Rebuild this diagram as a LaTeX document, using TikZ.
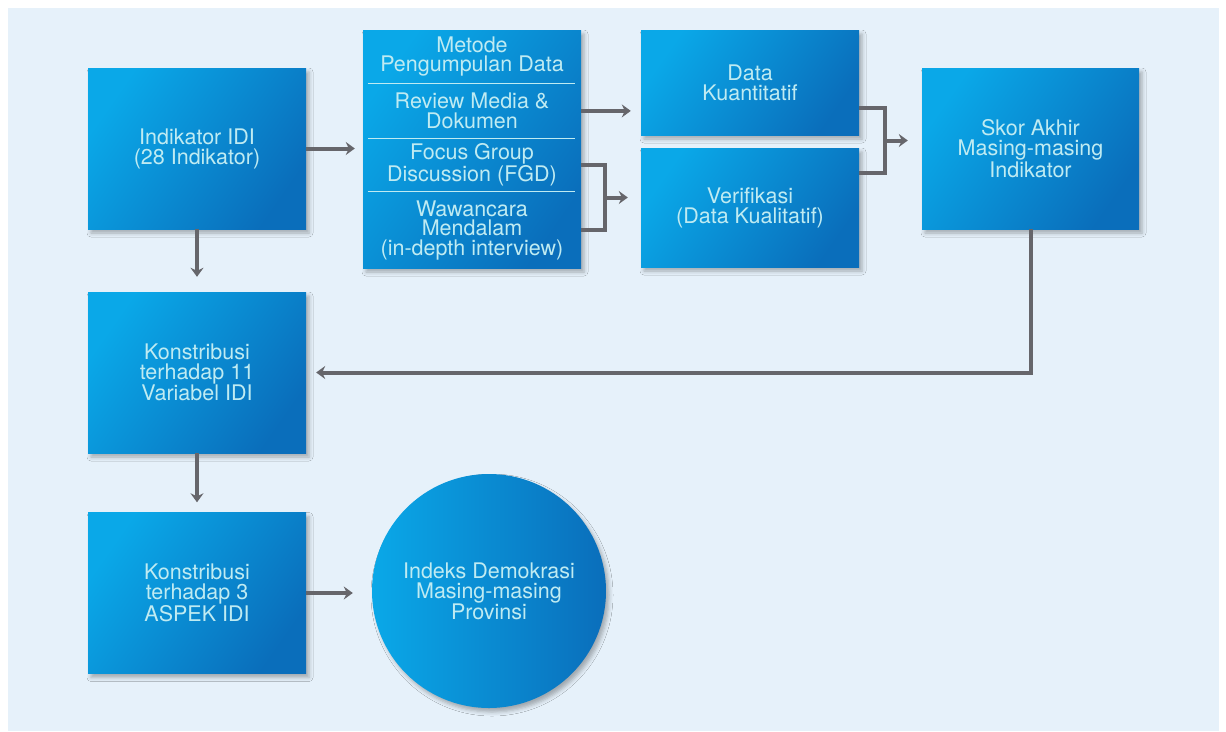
\documentclass[tikz,border=0pt]{standalone}
\usepackage{fontspec}
\setsansfont{TeX Gyre Heros}
\usetikzlibrary{positioning, calc, arrows.meta, shadows.blur}

\definecolor{panelbg}{HTML}{E6F1FA}
\definecolor{boxlight}{HTML}{0AA8E8}
\definecolor{boxdark}{HTML}{0A6EBB}
\definecolor{boxtext}{HTML}{BFEBF2}
\definecolor{linkgray}{HTML}{66666B}

\tikzset{
  idibox/.style={minimum width=218pt, minimum height=161pt, inner sep=0pt,
    top color=boxlight, bottom color=boxdark, shading angle=55,
    blur shadow={shadow xshift=3pt, shadow yshift=-4pt, shadow opacity=30, shadow blur radius=4pt},
    font=\sffamily\fontsize{21.5}{20}\selectfont, text=boxtext, align=center},
  rowbox/.style={minimum width=218pt, inner sep=0pt,
    font=\sffamily\fontsize{21.5}{19.5}\selectfont, text=boxtext, align=center},
  divline/.style={boxtext, line width=0.9pt},
  bracket/.style={linkgray, line width=4pt},
  link/.style={linkgray, line width=4pt, -{Stealth[length=9pt,width=13pt,inset=3pt]}, shorten >=10pt}
}

\begin{document}
\begin{tikzpicture}[x=1pt, y=-1pt]
  \useasboundingbox (0,0) rectangle (1226,731);

  % Background panel
  \fill[white] (0,0) rectangle (1226,731);
  \fill[panelbg] (8,8) rectangle (1219,731);

  % Boxes of the main flow
  \node[idibox] (ind) at (197,148.5) {Indikator IDI\\(28 Indikator)};
  \node[idibox, minimum height=238pt] (metode) at (472,149) {};
  \node[idibox, minimum height=105pt] (kuant) at (750,82.5) {Data\\Kuantitatif};
  \node[idibox, minimum height=119pt] (verif) at (750,207.5) {Verifikasi\\(Data Kualitatif)};
  \node[idibox, minimum width=217pt] (skor) at (1030.5,148.5) {Skor Akhir\\Masing-masing\\Indikator};
  \node[idibox] (kon11) at (197,372.5) {Konstribusi\\terhadap 11\\Variabel IDI};
  \node[idibox] (kon3) at (197,593) {Konstribusi\\terhadap 3\\ASPEK IDI};
  \node[idibox, circle, minimum size=234pt, left color=boxlight, right color=boxdark] (idx) at (489,591)
    {Indeks Demokrasi\\Masing-masing\\Provinsi};

  % Rows of the data collection box
  \node[rowbox, minimum height=53pt, below=0pt of metode.north] (methd) {Metode\\Pengumpulan Data};
  \node[rowbox, minimum height=55pt, below=0pt of methd] (review) {Review Media \&\\Dokumen};
  \node[rowbox, minimum height=52pt, below=0pt of review] (fgd) {Focus Group\\Discussion (FGD)};
  \node[rowbox, minimum height=78pt, below=0pt of fgd] (wawan) {Wawancara\\Mendalam\\(in-depth interview)};
  \foreach \r in {review, fgd, wawan}
    \draw[divline] ([xshift=5pt]\r.north west) -- ([xshift=-6pt]\r.north east);

  % Arrows into and out of the collection methods
  \draw[link, shorten >=8pt] (ind.east) -- (metode.west |- ind.east);
  \draw[link] (review.east) -- (kuant.west |- review.east);
  \draw[bracket] (fgd.east) -- ++(24,0) |- (wawan.east);
  \coordinate (fgdmid) at ($(fgd.east)!0.5!(wawan.east)+(24,0)$);
  \draw[link, shorten >=13pt] (fgdmid) -- (verif.west |- fgdmid);

  % Both data kinds go to the final score
  \coordinate (kq) at ($(kuant.east)+(0,25.5)$);
  \coordinate (vf) at ($(verif.east)+(0,-34.5)$);
  \draw[bracket] (kq) -- ++(26,0) |- (vf);
  \coordinate (kvmid) at ($(kq)!0.5!(vf)+(26,0)$);
  \draw[link, shorten >=14pt] (kvmid) -- (skor.west |- kvmid);

  % Score back to the variables, then down the left column
  \draw[link] (skor.south) |- (kon11.east);
  \draw[link, shorten >=15pt] (ind.south) -- (kon11.north);
  \draw[link] (kon11.south) -- (kon3.north);
  \draw[link, shorten >=19pt] (kon3.east) -- (idx.west |- kon3.east);
\end{tikzpicture}
\end{document}
